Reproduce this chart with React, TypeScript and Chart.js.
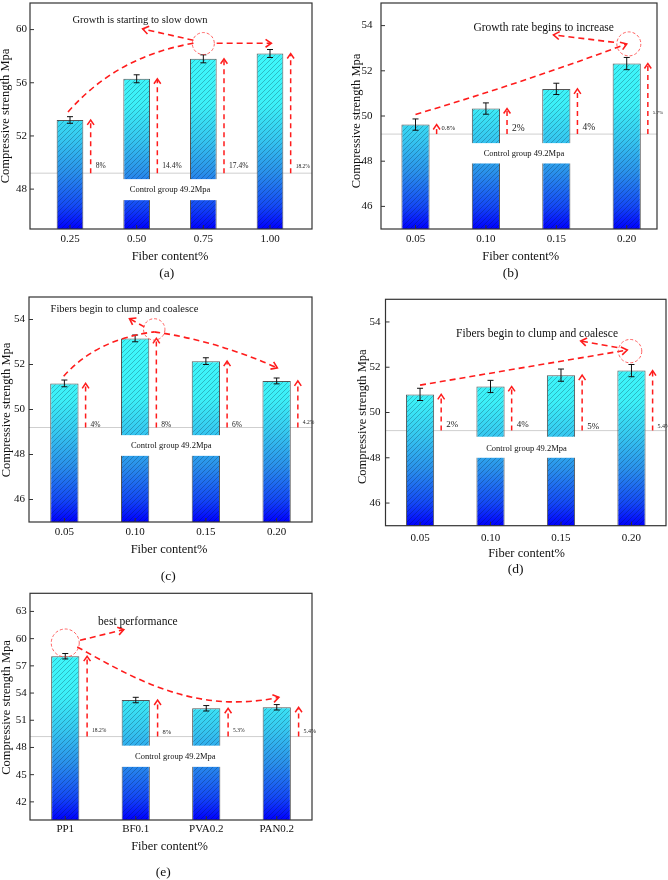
import React, { useEffect, useRef } from "react";
import { Chart, registerables } from "chart.js";
Chart.register(...registerables);

const CONTROL_VALUE = 49.2;
const CONTROL_LABEL = "Control group 49.2Mpa";
const X_TITLE = "Fiber content%";
const Y_TITLE = "Compressive strength Mpa";
const FONT = '"Liberation Serif", "Times New Roman", serif';
const RED = "rgb(255,28,28)";

// (a)
const categoriesA = ["0.25", "0.50", "0.75", "1.00"];
const valuesA = [53.2, 56.3, 57.8, 58.2];
const errorsA = [0.25, 0.3, 0.3, 0.3];
const percentA = ["8%", "14.4%", "17.4%", "18.2%"];
const yTicksA = [48, 52, 56, 60];

// (b)
const categoriesB = ["0.05", "0.10", "0.15", "0.20"];
const valuesB = [49.62, 50.33, 51.2, 52.32];
const errorsB = [0.25, 0.25, 0.25, 0.27];
const percentB = ["0.8%", "2%", "4%", "5.7%"];
const yTicksB = [46, 48, 50, 52, 54];

// (c)
const categoriesC = ["0.05", "0.10", "0.15", "0.20"];
const valuesC = [51.16, 53.16, 52.15, 51.27];
const errorsC = [0.15, 0.15, 0.15, 0.13];
const percentC = ["4%", "8%", "6%", "4.2%"];
const yTicksC = [46, 48, 50, 52, 54];

// (d)
const categoriesD = ["0.05", "0.10", "0.15", "0.20"];
const valuesD = [50.8, 51.15, 51.65, 51.85];
const errorsD = [0.27, 0.27, 0.27, 0.27];
const percentD = ["2%", "4%", "5%", "5.4%"];
const yTicksD = [46, 48, 50, 52, 54];

// (e)
const categoriesE = ["PP1", "BF0.1", "PVA0.2", "PAN0.2"];
const valuesE = [58.06, 53.23, 52.32, 52.43];
const errorsE = [0.3, 0.3, 0.3, 0.3];
const percentE = ["18.2%", "8%", "5.3%", "5.4%"];
const yTicksE = [42, 45, 48, 51, 54, 57, 60, 63];

type Pt = [number, number];
interface PathSpec { pts: Pt[]; head: boolean }
interface PanelCfg {
  caption: string;
  left: number; top: number; width: number; height: number;
  area: { l: number; t: number; r: number; b: number };
  xRange: [number, number]; yRange: [number, number];
  cats: string[]; vals: number[]; errs: number[]; pcts: string[]; yTicks: number[];
  pctSizes: number[]; pctY: number[]; arrowDx: number;
  yTickPad: number; xTickPad: number;
  yTitle: { x: number; y: number }; xTitle: { x: number; y: number }; cap: { x: number; y: number };
  box: [number, number, number, number]; boxText: { x: number; y: number };
  note: { text: string; x: number; y: number; size: number };
  circle: { x: number; y: number; r: number };
  paths: PathSpec[];
}

const panels: PanelCfg[] = [
  {
    caption: "(a)", left: 0, top: 0, width: 334, height: 300,
    area: { l: 30, t: 3, r: 312, b: 229 },
    xRange: [-0.6, 3.63], yRange: [45, 62],
    cats: categoriesA, vals: valuesA, errs: errorsA, pcts: percentA, yTicks: yTicksA,
    pctSizes: [7.5, 7.5, 7.5, 5.5], pctY: [49.7, 49.7, 49.7, 49.7], arrowDx: 0.31,
    yTickPad: 3, xTickPad: 3.5,
    yTitle: { x: 6, y: 116 }, xTitle: { x: 170, y: 256.7 }, cap: { x: 166.7, y: 273.3 },
    box: [0.5, 2.5, 47.17, 48.75], boxText: { x: 1.5, y: 47.96 },
    note: { text: "Growth is starting to slow down", x: 1.05, y: 60.73, size: 10.5 },
    circle: { x: 2.0, y: 58.95, r: 11 },
    paths: [
      { pts: [[-0.03, 53.8], [0.7, 58.0], [1.86, 58.98]], head: false },
      { pts: [[2.2, 58.97], [3.02, 58.97]], head: true },
      { pts: [[1.85, 59.2], [1.09, 60.05]], head: true },
    ],
  },
  {
    caption: "(b)", left: 334, top: 0, width: 334, height: 300,
    area: { l: 47, t: 3, r: 323, b: 229 },
    xRange: [-0.49, 3.43], yRange: [45, 55],
    cats: categoriesB, vals: valuesB, errs: errorsB, pcts: percentB, yTicks: yTicksB,
    pctSizes: [6.5, 9.5, 9.5, 5], pctY: [49.44, 49.44, 49.5, 50.15], arrowDx: 0.3,
    yTickPad: 8.5, xTickPad: 3.5,
    yTitle: { x: 23, y: 121 }, xTitle: { x: 186.7, y: 256.7 }, cap: { x: 176.7, y: 273.3 },
    box: [0.5, 2.5, 47.9, 48.8], boxText: { x: 1.54, y: 48.33 },
    note: { text: "Growth rate begins to increase", x: 1.82, y: 53.89, size: 11.5 },
    circle: { x: 3.03, y: 53.19, r: 12 },
    paths: [
      { pts: [[0, 50.07], [1.5, 51.45], [3.0, 53.19]], head: true },
      { pts: [[2.82, 53.26], [1.96, 53.59]], head: true },
    ],
  },
  {
    caption: "(c)", left: 0, top: 290, width: 334, height: 300,
    area: { l: 29, t: 7, r: 312, b: 232 },
    xRange: [-0.5, 3.5], yRange: [45, 55],
    cats: categoriesC, vals: valuesC, errs: errorsC, pcts: percentC, yTicks: yTicksC,
    pctSizes: [7.5, 7.5, 7.5, 5.5], pctY: [49.33, 49.33, 49.33, 49.4], arrowDx: 0.3,
    yTickPad: 4, xTickPad: 3.7,
    yTitle: { x: 6.7, y: 120 }, xTitle: { x: 169, y: 259.3 }, cap: { x: 168.3, y: 286 },
    box: [0.5, 2.5, 47.94, 48.86], boxText: { x: 1.51, y: 48.4 },
    note: { text: "Fibers begin to clump and coalesce", x: 0.85, y: 54.44, size: 10.5 },
    circle: { x: 1.27, y: 53.56, r: 10.7 },
    paths: [
      { pts: [[-0.01, 51.48], [0.46, 53.13], [1.27, 53.45]], head: false },
      { pts: [[1.27, 53.45], [2.135, 53.07], [3.01, 51.85]], head: true },
      { pts: [[1.13, 53.67], [0.92, 54.04]], head: true },
    ],
  },
  {
    caption: "(d)", left: 334, top: 290, width: 334, height: 300,
    area: { l: 51.5, t: 9.3, r: 332, b: 235.7 },
    xRange: [-0.49, 3.49], yRange: [45, 55],
    cats: categoriesD, vals: valuesD, errs: errorsD, pcts: percentD, yTicks: yTicksD,
    pctSizes: [9, 9, 9, 6], pctY: [49.45, 49.45, 49.38, 49.4], arrowDx: 0.3,
    yTickPad: 5, xTickPad: 6,
    yTitle: { x: 28.5, y: 126.7 }, xTitle: { x: 192.5, y: 263.3 }, cap: { x: 181.7, y: 279.3 },
    box: [0.5, 2.5, 48.0, 48.93], boxText: { x: 1.51, y: 48.42 },
    note: { text: "Fibers begin to clump and coalesce", x: 1.66, y: 53.49, size: 11.5 },
    circle: { x: 2.98, y: 52.71, r: 11.7 },
    paths: [
      { pts: [[0, 51.21], [2.94, 52.76]], head: true },
      { pts: [[2.8, 52.87], [2.28, 53.16]], head: true },
    ],
  },
  {
    caption: "(e)", left: 0, top: 580, width: 334, height: 300,
    area: { l: 30, t: 13.3, r: 312, b: 240 },
    xRange: [-0.5, 3.5], yRange: [40, 65],
    cats: categoriesE, vals: valuesE, errs: errorsE, pcts: percentE, yTicks: yTicksE,
    pctSizes: [5.5, 6.5, 5.5, 6], pctY: [49.83, 49.67, 49.83, 49.75], arrowDx: 0.31,
    yTickPad: 3.3, xTickPad: 2.7,
    yTitle: { x: 7, y: 127.5 }, xTitle: { x: 169.5, y: 266.7 }, cap: { x: 163.3, y: 292.7 },
    box: [0.5, 2.5, 45.86, 48.2], boxText: { x: 1.56, y: 47.0 },
    note: { text: "best performance", x: 1.03, y: 61.83, size: 11.5 },
    circle: { x: 0, y: 59.52, r: 14 },
    paths: [
      { pts: [[0.21, 59.82], [0.83, 60.99]], head: true },
      { pts: [[0.17, 59.08], [0.9, 56.0], [1.8, 51.5], [3.03, 53.53]], head: true },
    ],
  },
];

function makeHatch(): HTMLCanvasElement {
  const s = 5;
  const c = document.createElement("canvas");
  c.width = s; c.height = s;
  const g = c.getContext("2d")!;
  g.strokeStyle = "rgba(0,20,40,0.32)";
  g.lineWidth = 0.8;
  g.beginPath();
  g.moveTo(0, s); g.lineTo(s, 0);
  g.moveTo(-1, 1); g.lineTo(1, -1);
  g.moveTo(s - 1, s + 1); g.lineTo(s + 1, s - 1);
  g.stroke();
  return c;
}

function chevron(ctx: CanvasRenderingContext2D, tx: number, ty: number, ang: number, len: number) {
  ctx.save();
  ctx.setLineDash([]);
  ctx.beginPath();
  const a1 = ang + Math.PI - 0.6;
  const a2 = ang + Math.PI + 0.6;
  ctx.moveTo(tx + len * Math.cos(a1), ty + len * Math.sin(a1));
  ctx.lineTo(tx, ty);
  ctx.lineTo(tx + len * Math.cos(a2), ty + len * Math.sin(a2));
  ctx.stroke();
  ctx.restore();
}

function makePlugin(cfg: PanelCfg) {
  return {
    id: "annot",
    beforeDatasetsDraw(chart: any) {
      const { ctx, chartArea: a } = chart;
      const y = chart.scales.y.getPixelForValue(CONTROL_VALUE);
      ctx.save();
      ctx.strokeStyle = "#cfcfcf";
      ctx.lineWidth = 1;
      ctx.beginPath();
      ctx.moveTo(a.left, y);
      ctx.lineTo(a.right, y);
      ctx.stroke();
      ctx.restore();
    },
    afterDatasetsDraw(chart: any) {
      const { ctx, chartArea: a } = chart;
      const xs = chart.scales.x, ys = chart.scales.y;
      const X = (v: number) => xs.getPixelForValue(v);
      const Y = (v: number) => ys.getPixelForValue(v);
      // hatch, clipped to the plot area
      const pat = ctx.createPattern(makeHatch(), "repeat");
      const meta = chart.getDatasetMeta(0);
      ctx.save();
      ctx.beginPath();
      ctx.rect(a.left, a.top, a.right - a.left, a.bottom - a.top);
      ctx.clip();
      meta.data.forEach((el: any) => {
        const p = el.getProps(["x", "y", "base", "width"], true);
        const bottom = Math.min(p.base, a.bottom);
        ctx.beginPath();
        ctx.rect(p.x - p.width / 2 + 1, p.y + 1, p.width - 2, bottom - p.y - 1);
        ctx.fillStyle = pat;
        ctx.fill();
      });
      ctx.restore();
      // error bars
      ctx.save();
      ctx.strokeStyle = "#111";
      ctx.lineWidth = 1;
      cfg.vals.forEach((v, i) => {
        const x = X(i), y1 = Y(v + cfg.errs[i]), y2 = Y(v - cfg.errs[i]);
        ctx.beginPath();
        ctx.moveTo(x, y1); ctx.lineTo(x, y2);
        ctx.moveTo(x - 3, y1); ctx.lineTo(x + 3, y1);
        ctx.moveTo(x - 3, y2); ctx.lineTo(x + 3, y2);
        ctx.stroke();
      });
      ctx.restore();
      // control box
      const [bx1, bx2, by1, by2] = cfg.box;
      ctx.save();
      ctx.fillStyle = "#ffffff";
      ctx.fillRect(X(bx1), Y(by2), X(bx2) - X(bx1), Y(by1) - Y(by2));
      ctx.fillStyle = "#111";
      ctx.font = `8.5px ${FONT}`;
      ctx.textAlign = "center";
      ctx.textBaseline = "middle";
      ctx.fillText(CONTROL_LABEL, X(cfg.boxText.x), Y(cfg.boxText.y));
      ctx.restore();
      // frame and inward ticks
      ctx.save();
      ctx.strokeStyle = "#333";
      ctx.lineWidth = 1.2;
      ctx.strokeRect(a.left, a.top, a.right - a.left, a.bottom - a.top);
      ctx.lineWidth = 1;
      ctx.beginPath();
      cfg.yTicks.forEach((t) => { ctx.moveTo(a.left, Y(t)); ctx.lineTo(a.left + 4, Y(t)); });
      cfg.cats.forEach((_, i) => { ctx.moveTo(X(i), a.bottom); ctx.lineTo(X(i), a.bottom - 4); });
      ctx.stroke();
      ctx.restore();
      // vertical red arrows + percentage labels
      ctx.save();
      ctx.strokeStyle = RED;
      ctx.lineWidth = 1.5;
      cfg.vals.forEach((v, i) => {
        const x = X(i + cfg.arrowDx);
        const yb = Y(CONTROL_VALUE), yt = Y(v);
        ctx.setLineDash([5, 4]);
        ctx.beginPath();
        ctx.moveTo(x, yb); ctx.lineTo(x, yt + 1);
        ctx.stroke();
        chevron(ctx, x, yt, -Math.PI / 2, 6);
        ctx.fillStyle = "#222";
        ctx.font = `${cfg.pctSizes[i]}px ${FONT}`;
        ctx.textAlign = "left";
        ctx.textBaseline = "middle";
        ctx.fillText(cfg.pcts[i], x + 5, Y(cfg.pctY[i]));
      });
      ctx.restore();
      // curved dashed paths
      ctx.save();
      ctx.strokeStyle = RED;
      ctx.lineWidth = 1.6;
      cfg.paths.forEach((ps) => {
        const p = ps.pts.map(([vx, vy]) => [X(vx), Y(vy)]);
        ctx.setLineDash([6, 4]);
        ctx.beginPath();
        ctx.moveTo(p[0][0], p[0][1]);
        if (p.length === 2) ctx.lineTo(p[1][0], p[1][1]);
        else if (p.length === 3) ctx.quadraticCurveTo(p[1][0], p[1][1], p[2][0], p[2][1]);
        else ctx.bezierCurveTo(p[1][0], p[1][1], p[2][0], p[2][1], p[3][0], p[3][1]);
        ctx.stroke();
        if (ps.head) {
          const e = p[p.length - 1], s = p[p.length - 2];
          chevron(ctx, e[0], e[1], Math.atan2(e[1] - s[1], e[0] - s[0]), 7);
        }
      });
      // circle
      ctx.strokeStyle = "rgba(255,70,70,0.85)";
      ctx.lineWidth = 1;
      ctx.setLineDash([3, 2]);
      ctx.beginPath();
      ctx.arc(X(cfg.circle.x), Y(cfg.circle.y), cfg.circle.r, 0, Math.PI * 2);
      ctx.stroke();
      ctx.restore();
      // note text
      ctx.save();
      ctx.fillStyle = "#111";
      ctx.font = `${cfg.note.size}px ${FONT}`;
      ctx.textAlign = "center";
      ctx.textBaseline = "middle";
      ctx.fillText(cfg.note.text, X(cfg.note.x), Y(cfg.note.y));
      ctx.restore();
    },
    afterDraw(chart: any) {
      const { ctx } = chart;
      ctx.save();
      ctx.fillStyle = "#111";
      ctx.textAlign = "center";
      ctx.textBaseline = "middle";
      ctx.font = `12.5px ${FONT}`;
      ctx.fillText(X_TITLE, cfg.xTitle.x, cfg.xTitle.y);
      ctx.font = `13.5px ${FONT}`;
      ctx.fillText(cfg.caption, cfg.cap.x, cfg.cap.y);
      ctx.translate(cfg.yTitle.x, cfg.yTitle.y);
      ctx.rotate(-Math.PI / 2);
      ctx.font = `12.5px ${FONT}`;
      ctx.fillText(Y_TITLE, 0, 0);
      ctx.restore();
    },
  };
}

function Panel({ cfg }: { cfg: PanelCfg }) {
  const ref = useRef<HTMLCanvasElement>(null);
  useEffect(() => {
    const canvas = ref.current!;
    const ar = cfg.area;
    const chart = new Chart(canvas, {
      type: "bar",
      data: {
        datasets: [
          {
            data: cfg.vals.map((v, i) => ({ x: i, y: v })),
            backgroundColor: (c: any) => {
              const ch = c.chart;
              const a = ch.chartArea;
              if (!a) return "#40ffff";
              const g = ch.ctx.createLinearGradient(0, a.top, 0, a.bottom);
              g.addColorStop(0, "#40ffff");
              g.addColorStop(0.45, "#3cf0f8");
              g.addColorStop(0.6, "#36c8f0");
              g.addColorStop(0.75, "#2a90ea");
              g.addColorStop(0.9, "#1448f5");
              g.addColorStop(1, "#0000ff");
              return g;
            },
            borderColor: "#555",
            borderWidth: 1,
            barPercentage: 0.4,
            categoryPercentage: 1,
          } as any,
        ],
      },
      options: {
        animation: false,
        responsive: false,
        maintainAspectRatio: false,
        layout: { padding: { left: 0, top: ar.t, right: cfg.width - ar.r, bottom: 0 } },
        plugins: { legend: { display: false }, tooltip: { enabled: false } },
        scales: {
          x: {
            type: "linear",
            offset: false,
            min: cfg.xRange[0],
            max: cfg.xRange[1],
            grid: { display: false, drawTicks: false },
            border: { display: false },
            ticks: {
              padding: cfg.xTickPad,
              maxRotation: 0,
              autoSkip: false,
              color: "#111",
              font: { family: FONT, size: 11 },
              callback: (v: any) => cfg.cats[v as number] ?? "",
            },
            afterBuildTicks: (s: any) => { s.ticks = cfg.cats.map((_, i) => ({ value: i })); },
            afterFit: (s: any) => {
              s.height = cfg.height - ar.b;
              s.paddingLeft = 0; s.paddingRight = 0; s.paddingTop = 0; s.paddingBottom = 0;
            },
          } as any,
          y: {
            type: "linear",
            min: cfg.yRange[0],
            max: cfg.yRange[1],
            grid: { display: false, drawTicks: false },
            border: { display: false },
            ticks: {
              padding: cfg.yTickPad,
              color: "#111",
              font: { family: FONT, size: 11 },
              callback: (v: any) => String(v),
            },
            afterBuildTicks: (s: any) => { s.ticks = cfg.yTicks.map((v) => ({ value: v })); },
            afterFit: (s: any) => {
              s.width = ar.l;
              s.paddingLeft = 0; s.paddingRight = 0; s.paddingTop = 0; s.paddingBottom = 0;
            },
          } as any,
        },
      },
      plugins: [makePlugin(cfg) as any],
    });
    return () => chart.destroy();
  }, [cfg]);
  return (
    <canvas
      ref={ref}
      width={cfg.width}
      height={cfg.height}
      style={{ position: "absolute", left: cfg.left, top: cfg.top, width: cfg.width, height: cfg.height }}
    />
  );
}

export default function App() {
  return (
    <div style={{ position: "absolute", left: 0, top: 0, width: 668, height: 880, background: "#fff", overflow: "hidden" }}>
      {panels.map((p) => (
        <Panel key={p.caption} cfg={p} />
      ))}
    </div>
  );
}
